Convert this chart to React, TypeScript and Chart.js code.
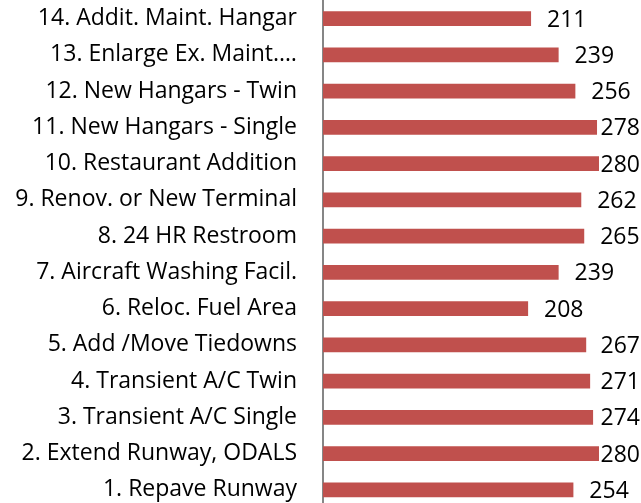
import React, { useEffect, useRef } from "react";
import { Chart, registerables } from "chart.js";

Chart.register(...registerables);

const categories = [
  "14. Addit. Maint. Hangar",
  "13. Enlarge Ex. Maint.…",
  "12. New Hangars - Twin",
  "11. New Hangars - Single",
  "10. Restaurant Addition",
  "9. Renov. or New Terminal",
  "8. 24 HR Restroom",
  "7. Aircraft Washing Facil.",
  "6. Reloc. Fuel Area",
  "5. Add /Move Tiedowns",
  "4. Transient A/C Twin",
  "3. Transient A/C Single",
  "2. Extend Runway, ODALS",
  "1. Repave Runway",
];

const scores = [211, 239, 256, 278, 280, 262, 265, 239, 208, 267, 271, 274, 280, 254];

const FONT = "'Open Sans', sans-serif";
const FONT_SIZE = 23;

const valueLabels = {
  id: "valueLabels",
  afterDatasetsDraw(chart: any) {
    const ctx = chart.ctx;
    const meta = chart.getDatasetMeta(0);
    ctx.save();
    ctx.font = `${FONT_SIZE}px ${FONT}`;
    ctx.fillStyle = "#000000";
    ctx.textAlign = "center";
    ctx.textBaseline = "middle";
    meta.data.forEach((el: any, i: number) => {
      const text = String(chart.data.datasets[0].data[i]);
      const w = ctx.measureText(text).width;
      const cx = Math.min(el.x + 36, chart.width - 1 - w / 2);
      ctx.fillText(text, cx, el.y + 1.5);
    });
    ctx.restore();
  },
};

export default function App() {
  const ref = useRef<HTMLCanvasElement | null>(null);
  useEffect(() => {
    if (!ref.current) return;
    const chart = new Chart(ref.current, {
      type: "bar",
      data: {
        labels: categories,
        datasets: [
          {
            data: scores,
            backgroundColor: "#C0504D",
            borderWidth: 0,
            barThickness: 14,
          },
        ],
      },
      options: {
        indexAxis: "y",
        animation: false,
        responsive: false,
        maintainAspectRatio: false,
        layout: { padding: { top: 0.5, right: 0, bottom: 0, left: 0 } },
        plugins: {
          legend: { display: false },
          tooltip: { enabled: false },
        },
        scales: {
          x: {
            display: false,
            min: 0,
            max: 323,
          },
          y: {
            grid: { display: false, drawTicks: false },
            border: { display: true, color: "#868686", width: 2 },
            ticks: {
              color: "#000000",
              padding: 26,
              font: { family: FONT, size: FONT_SIZE },
              autoSkip: false,
            },
            afterFit: (scale: any) => {
              scale.width = 323;
              scale.paddingTop = 0;
              scale.paddingBottom = 0;
            },
          },
        },
      },
      plugins: [valueLabels],
    });
    return () => chart.destroy();
  }, []);
  return (
    <div style={{ position: "absolute", left: 0, top: 0, width: 641, height: 508 }}>
      <canvas ref={ref} width={641} height={508} style={{ width: 641, height: 508, display: "block" }} />
    </div>
  );
}
